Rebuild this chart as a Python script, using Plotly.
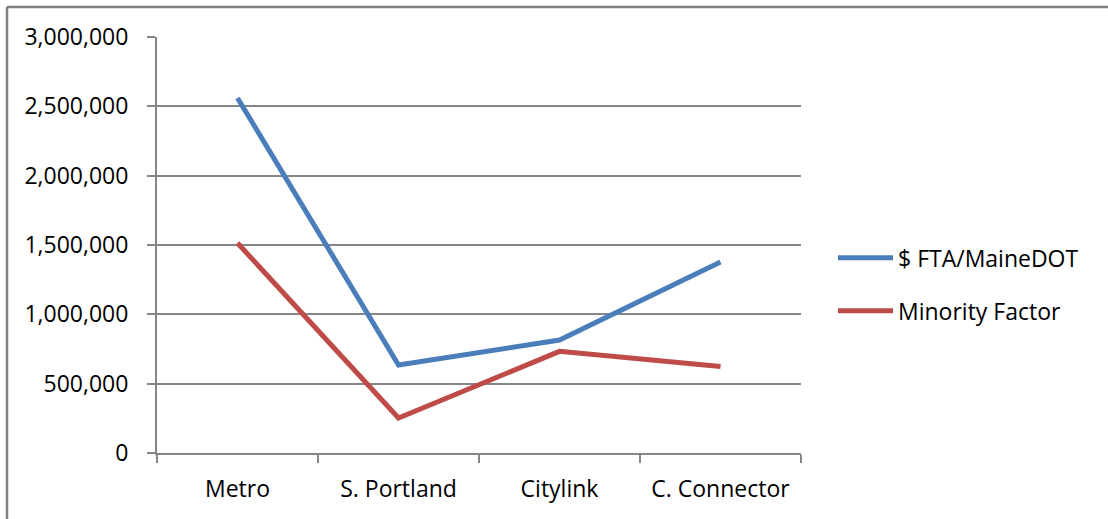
import plotly.graph_objects as go

# Route categories and funding figures
routes = ["Metro", "S. Portland", "Citylink", "C. Connector"]
fta_mainedot = [2560000, 635000, 815000, 1378000]
minority_factor = [1514000, 252000, 733000, 624000]
y_ticks = [0, 500000, 1000000, 1500000, 2000000, 2500000, 3000000]

W, H = 1108, 519
L, R, T, B = 157, 307, 36.5, 65.5
pw, ph = W - L - R, H - T - B

def px_x(x):
    return (x - L) / pw

def px_y(y):
    return (H - B - y) / ph

FONT = "Open Sans"
GRID = "#868686"

fig = go.Figure()
fig.add_trace(go.Scatter(
    x=routes, y=fta_mainedot, name="$ FTA/MaineDOT", mode="lines",
    legendgroup="fta",
    line=dict(color="#4A7EBB", width=5),
))
fig.add_trace(go.Scatter(
    x=routes, y=minority_factor, name="Minority Factor", mode="lines",
    legendgroup="minority",
    line=dict(color="#BE4B48", width=5),
))

fig.update_layout(
    width=W, height=H,
    margin=dict(l=L, r=R, t=T, b=B, pad=0),
    paper_bgcolor="white", plot_bgcolor="white",
    font=dict(family=FONT, size=23, color="#000000"),
    showlegend=True,
    legend=dict(
        x=px_x(833), y=px_y(284.5), xanchor="left", yanchor="middle",
        bgcolor="rgba(0,0,0,0)", itemwidth=55,
        font=dict(family=FONT, size=23),
        tracegroupgap=20,
    ),
    xaxis=dict(
        range=[-0.5, 3.5], showgrid=False, zeroline=False,
        showline=True, linecolor=GRID, linewidth=2,
        ticks="outside", ticklen=8, tickwidth=2, tickcolor=GRID,
        tickson="boundaries", ticklabelstandoff=14,
        fixedrange=True,
    ),
    yaxis=dict(
        range=[0, 3000000], tickvals=y_ticks,
        ticktext=[f"{v:,}" for v in y_ticks],
        showgrid=True, gridcolor=GRID, gridwidth=2, zeroline=False,
        showline=True, linecolor=GRID, linewidth=2,
        ticks="outside", ticklen=8, tickwidth=2, tickcolor=GRID,
        ticklabelstandoff=14,
        fixedrange=True,
    ),
    shapes=[
        # outer chart frame (top and left edges)
        dict(type="line", xref="paper", yref="paper",
             x0=px_x(7), x1=px_x(W + 5), y0=px_y(6.5), y1=px_y(6.5),
             line=dict(color="#7f7f7f", width=2.5)),
        dict(type="line", xref="paper", yref="paper",
             x0=px_x(7), x1=px_x(7), y0=px_y(6.5), y1=px_y(H + 5),
             line=dict(color="#7f7f7f", width=2.5)),
    ],
)

fig.write_html("out.html")
